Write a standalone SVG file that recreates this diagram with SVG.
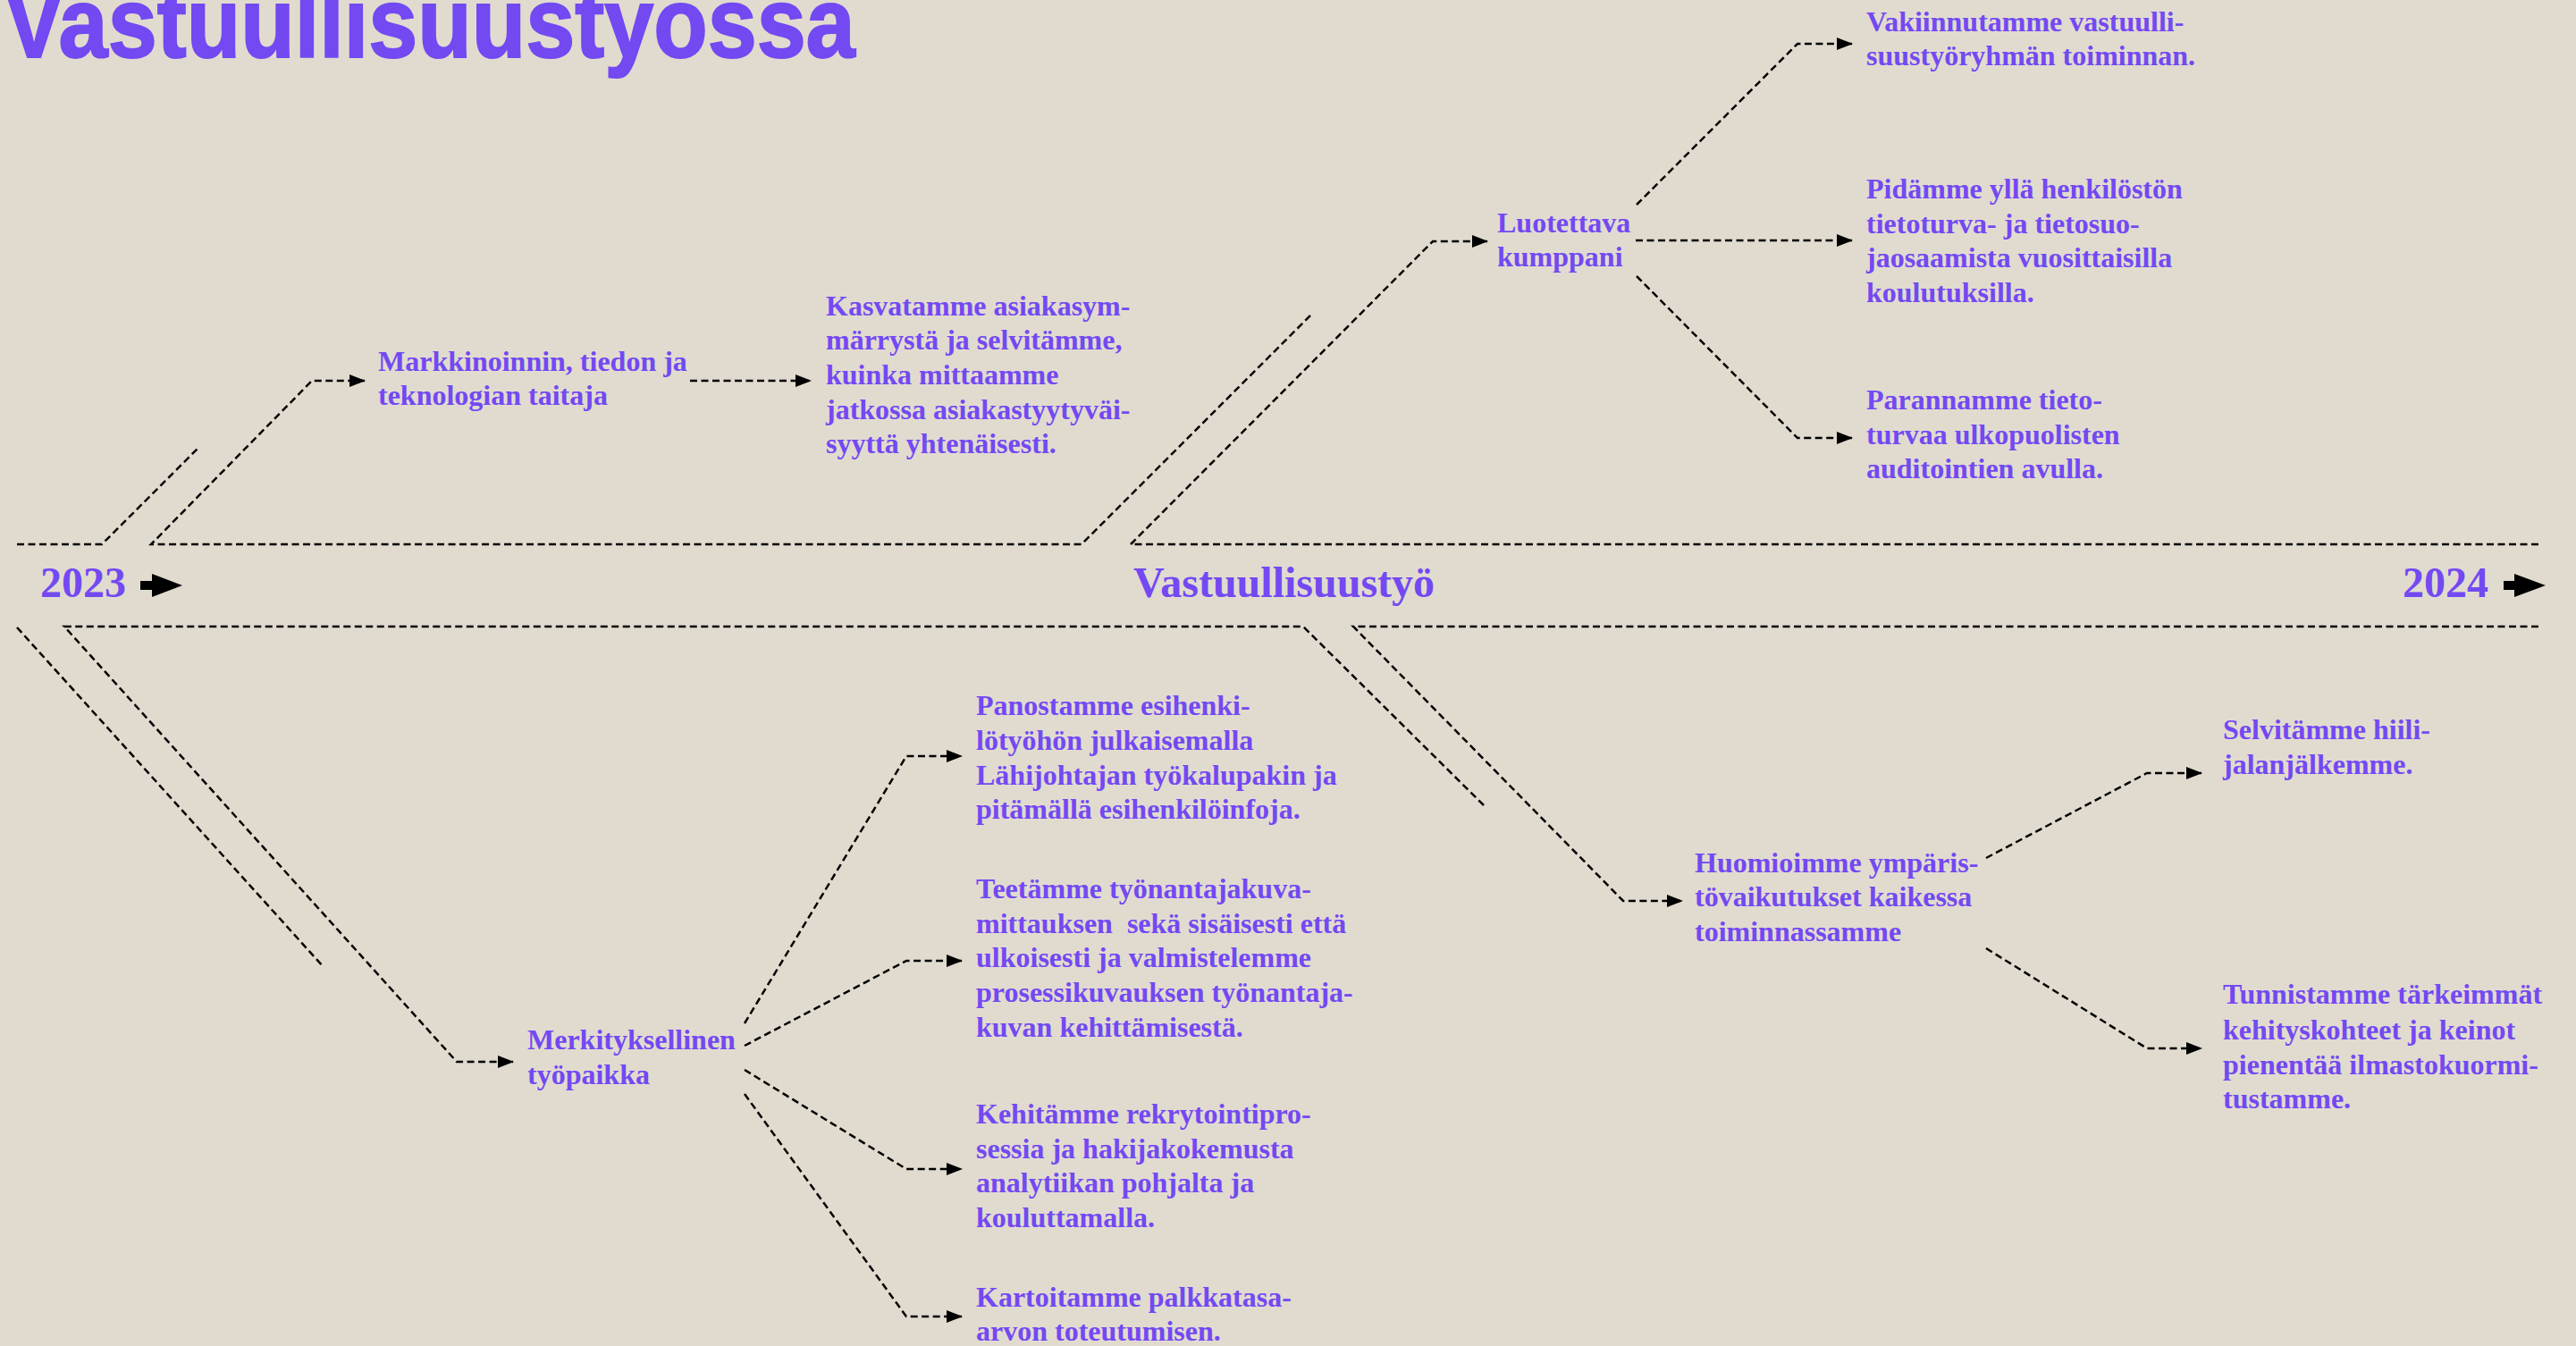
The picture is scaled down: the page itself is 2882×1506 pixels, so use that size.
<svg xmlns="http://www.w3.org/2000/svg" width="2882" height="1506" viewBox="0 0 2882 1506">
<defs>
<style>
.t{font-family:"Liberation Serif","Times New Roman",serif;font-weight:700;font-size:32px;fill:#7349F2}
.h{font-size:48px}
.title{font-family:"Liberation Sans",Arial,sans-serif;font-weight:700;font-size:112px;fill:#7349F2;stroke:#7349F2;stroke-width:2}
.c{fill:none;stroke:#000;stroke-width:2.5;stroke-dasharray:8 4.5}
.ar{fill:#000}
</style>
<marker id="ah" viewBox="0 0 18 14" refX="17" refY="7" markerWidth="18" markerHeight="14" markerUnits="userSpaceOnUse" orient="auto">
<path d="M0,0 L18,7 L0,14 z" fill="#000"/>
</marker>
</defs>
<rect width="2882" height="1506" fill="#E1DBCF"/>

<g id="title"><text class="title" x="5" y="64" textLength="952" lengthAdjust="spacingAndGlyphs">Vastuullisuustyössä</text></g>

<g id="connectors">
<path class="c" d="M19,609 H114 L221,502"/>
<path class="c" d="M1466,353 L1210,609 H169 L349,426 H408" marker-end="url(#ah)"/>
<path class="c" d="M772,426 H907" marker-end="url(#ah)"/>
<path class="c" d="M2840,609 H1265 L1603,270 H1664" marker-end="url(#ah)"/>
<path class="c" d="M1831,229 L2011,49 H2072" marker-end="url(#ah)"/>
<path class="c" d="M1830,269 H2072" marker-end="url(#ah)"/>
<path class="c" d="M1831,309 L2011,490 H2072" marker-end="url(#ah)"/>
<path class="c" d="M19,702 L362,1082"/>
<path class="c" d="M1660,901 L1458,701 H72 L511,1188 H574" marker-end="url(#ah)"/>
<path class="c" d="M2840,701 H1514 L1816,1008 H1882" marker-end="url(#ah)"/>
<path class="c" d="M833,1145 L1014,846 H1076" marker-end="url(#ah)"/>
<path class="c" d="M833,1170 L1014,1075 H1076" marker-end="url(#ah)"/>
<path class="c" d="M833,1197 L1014,1308 H1076" marker-end="url(#ah)"/>
<path class="c" d="M833,1224 L1014,1473 H1076" marker-end="url(#ah)"/>
<path class="c" d="M2222,960 L2402,865 H2463" marker-end="url(#ah)"/>
<path class="c" d="M2222,1061 L2402,1173 H2463" marker-end="url(#ah)"/>
</g>

<g id="year2023">
<text class="t h" x="45" y="668">2023</text>
<path class="ar" d="M157,650 H170 V642 L204,655 L170,668 V660 H157 z"/>
</g>
<g id="heading"><text class="t h" x="1268" y="668">Vastuullisuustyö</text></g>
<g id="year2024">
<text class="t h" x="2688" y="668">2024</text>
<path class="ar" d="M2801,650 H2813 V642 L2848,655 L2813,668 V660 H2801 z"/>
</g>

<g id="markkinoinnin"><text class="t"><tspan x="423" y="415">Markkinoinnin, tiedon ja</tspan><tspan x="423" y="453">teknologian taitaja</tspan></text></g>
<g id="kasvatamme"><text class="t"><tspan x="924" y="353">Kasvatamme asiakasym-</tspan><tspan x="924" y="391">märrystä ja selvitämme,</tspan><tspan x="924" y="430">kuinka mittaamme</tspan><tspan x="924" y="469">jatkossa asiakastyytyväi-</tspan><tspan x="924" y="507">syyttä yhtenäisesti.</tspan></text></g>

<g id="luotettava"><text class="t"><tspan x="1675" y="260">Luotettava</tspan><tspan x="1675" y="298">kumppani</tspan></text></g>
<g id="vakiinnutamme"><text class="t"><tspan x="2088" y="35">Vakiinnutamme vastuulli-</tspan><tspan x="2088" y="73">suustyöryhmän toiminnan.</tspan></text></g>
<g id="pidamme"><text class="t"><tspan x="2088" y="222">Pidämme yllä henkilöstön</tspan><tspan x="2088" y="261">tietoturva- ja tietosuo-</tspan><tspan x="2088" y="299">jaosaamista vuosittaisilla</tspan><tspan x="2088" y="338">koulutuksilla.</tspan></text></g>
<g id="parannamme"><text class="t"><tspan x="2088" y="458">Parannamme tieto-</tspan><tspan x="2088" y="497">turvaa ulkopuolisten</tspan><tspan x="2088" y="535">auditointien avulla.</tspan></text></g>

<g id="merkityksellinen"><text class="t"><tspan x="590" y="1174">Merkityksellinen</tspan><tspan x="590" y="1213">työpaikka</tspan></text></g>
<g id="panostamme"><text class="t"><tspan x="1092" y="800">Panostamme esihenki-</tspan><tspan x="1092" y="839">lötyöhön julkaisemalla</tspan><tspan x="1092" y="878">Lähijohtajan työkalupakin ja</tspan><tspan x="1092" y="916">pitämällä esihenkilöinfoja.</tspan></text></g>
<g id="teetamme"><text class="t" xml:space="preserve"><tspan x="1092" y="1005">Teetämme työnantajakuva-</tspan><tspan x="1092" y="1044">mittauksen  sekä sisäisesti että</tspan><tspan x="1092" y="1082">ulkoisesti ja valmistelemme</tspan><tspan x="1092" y="1121">prosessikuvauksen työnantaja-</tspan><tspan x="1092" y="1160">kuvan kehittämisestä.</tspan></text></g>
<g id="kehitamme"><text class="t"><tspan x="1092" y="1257">Kehitämme rekrytointipro-</tspan><tspan x="1092" y="1296">sessia ja hakijakokemusta</tspan><tspan x="1092" y="1334">analytiikan pohjalta ja</tspan><tspan x="1092" y="1373">kouluttamalla.</tspan></text></g>
<g id="kartoitamme"><text class="t"><tspan x="1092" y="1462">Kartoitamme palkkatasa-</tspan><tspan x="1092" y="1500">arvon toteutumisen.</tspan></text></g>

<g id="huomioimme"><text class="t"><tspan x="1896" y="976">Huomioimme ympäris-</tspan><tspan x="1896" y="1014">tövaikutukset kaikessa</tspan><tspan x="1896" y="1053">toiminnassamme</tspan></text></g>
<g id="selvitamme"><text class="t"><tspan x="2487" y="827">Selvitämme hiili-</tspan><tspan x="2487" y="866">jalanjälkemme.</tspan></text></g>
<g id="tunnistamme"><text class="t"><tspan x="2487" y="1123">Tunnistamme tärkeimmät</tspan><tspan x="2487" y="1163">kehityskohteet ja keinot</tspan><tspan x="2487" y="1202">pienentää ilmastokuormi-</tspan><tspan x="2487" y="1240">tustamme.</tspan></text></g>
</svg>
